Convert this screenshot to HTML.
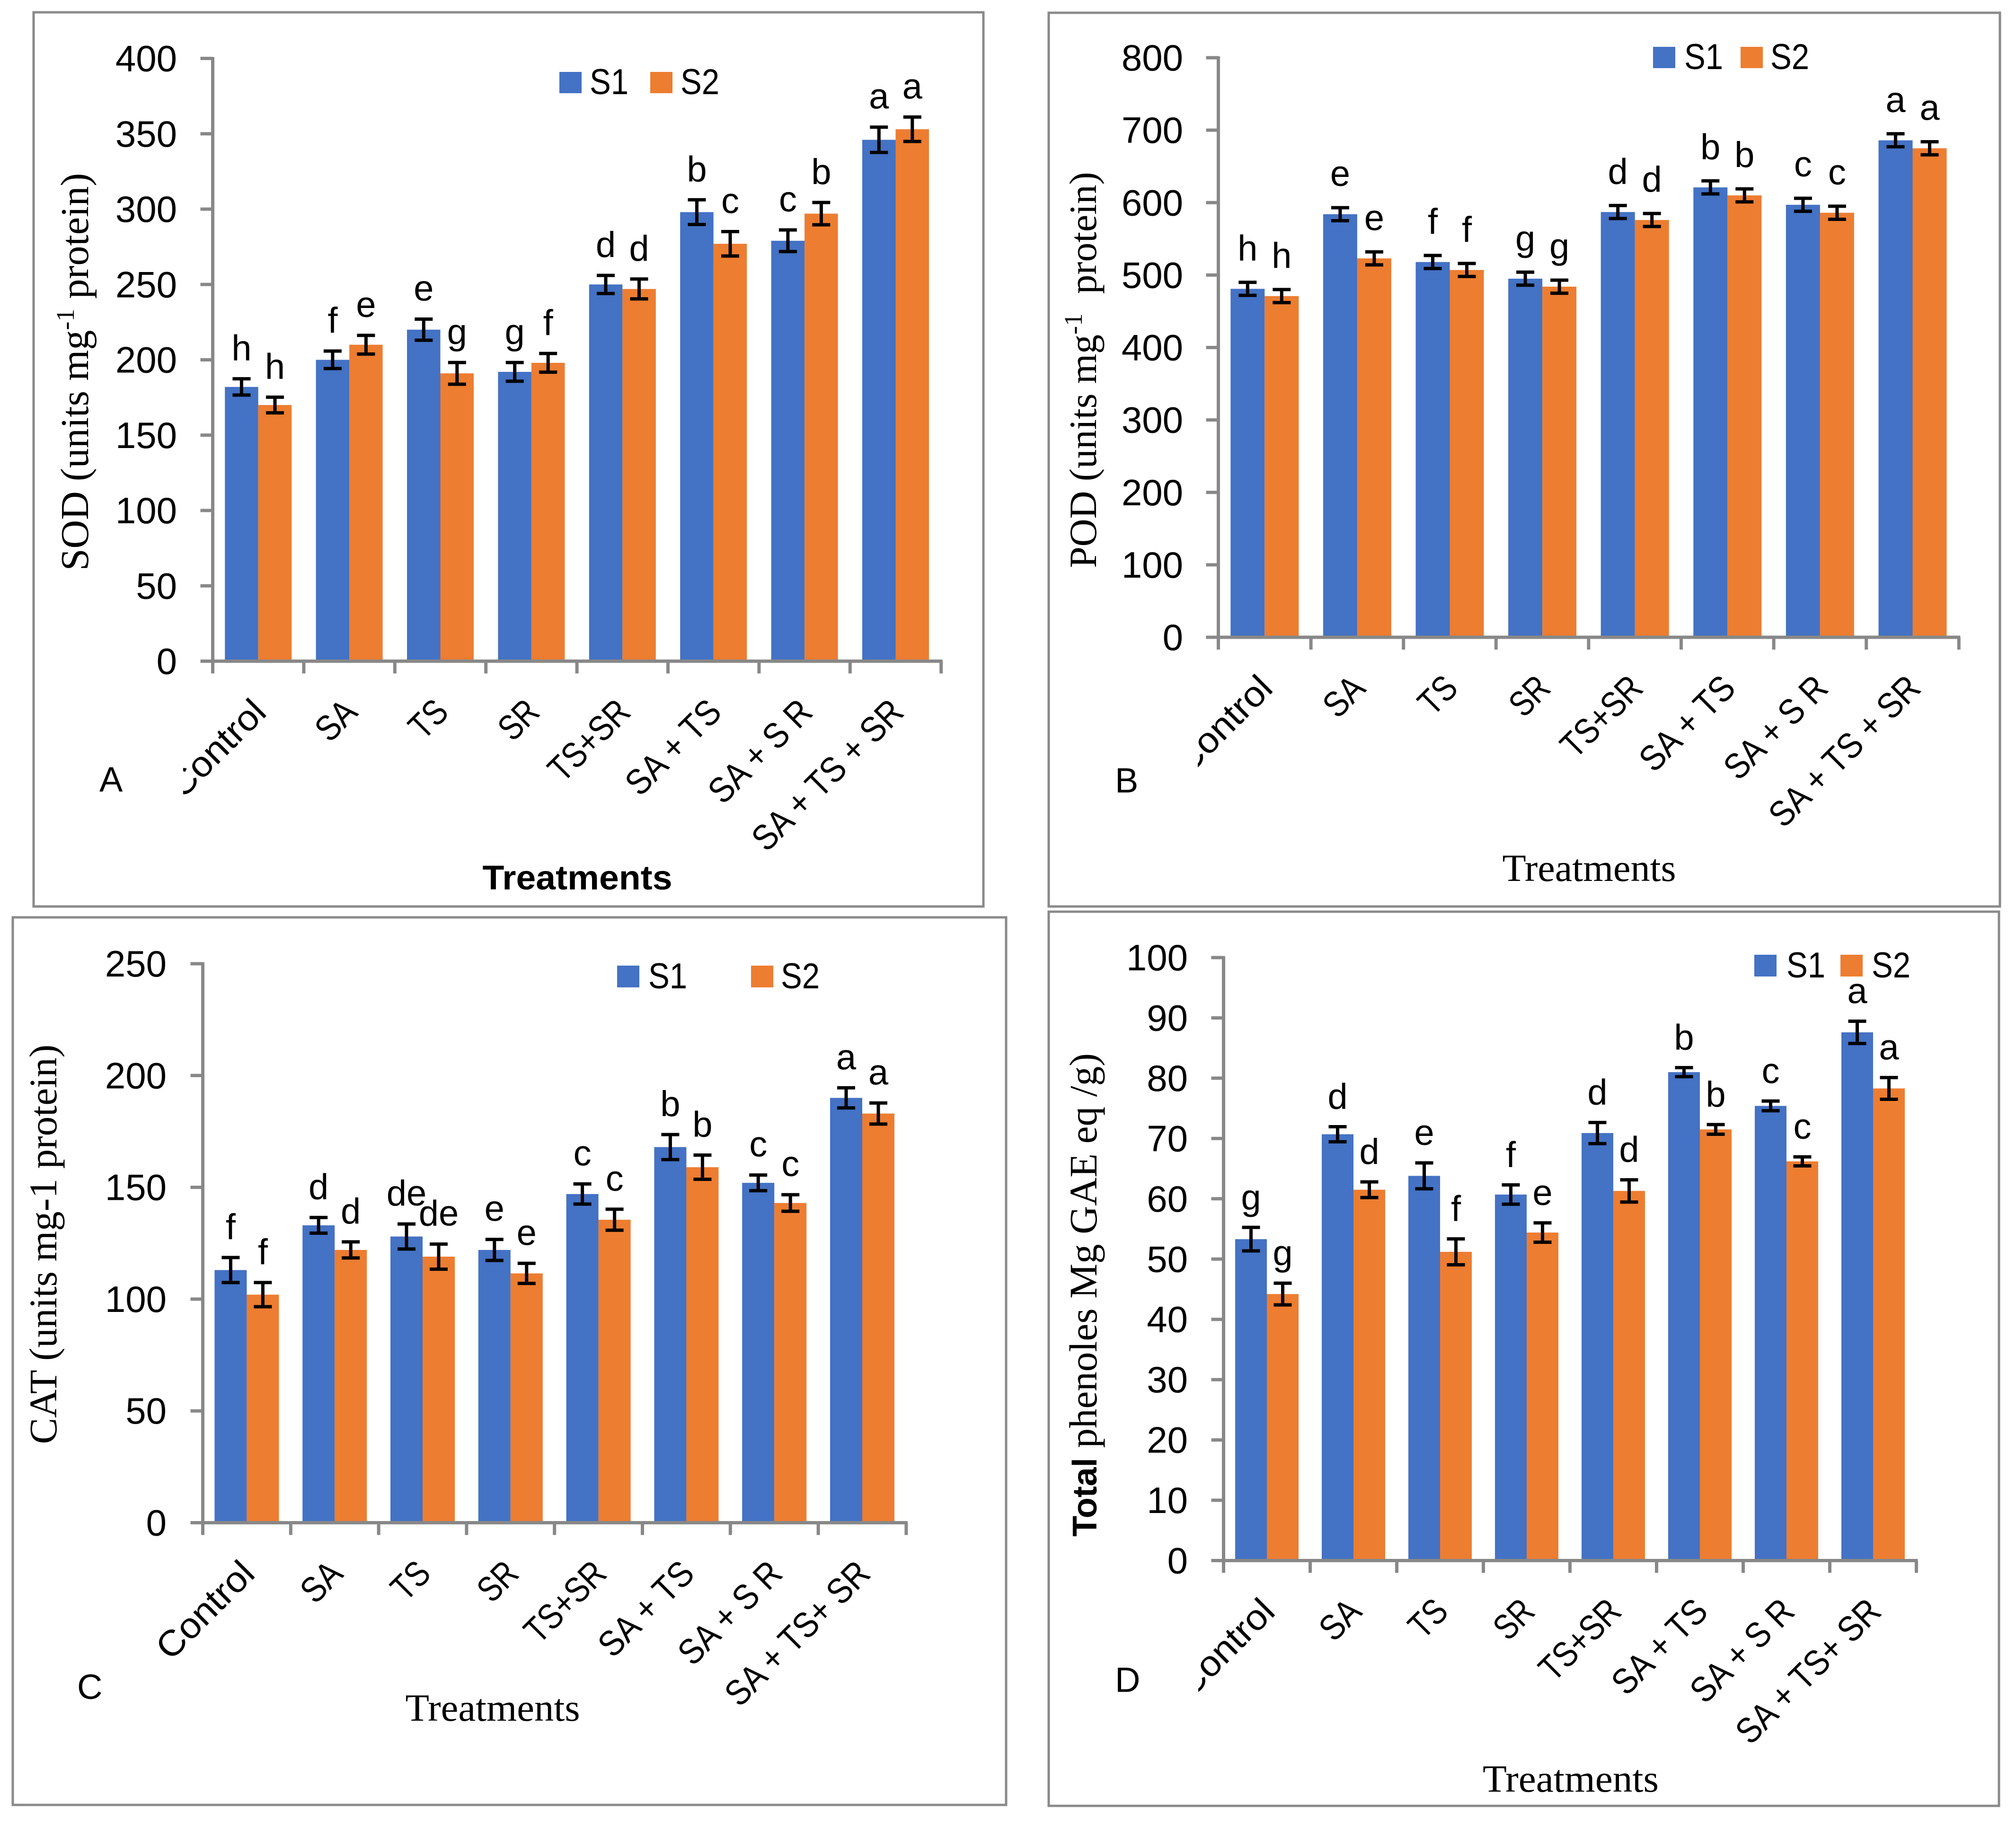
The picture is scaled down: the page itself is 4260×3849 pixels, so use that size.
<!DOCTYPE html>
<html lang="en">
<head>
<meta charset="utf-8">
<title>Antioxidant enzymes and total phenoles by treatment</title>
<style>
html,body{margin:0;padding:0;background:#fff;}
svg{display:block;}
</style>
</head>
<body>
<svg id="figure" xmlns="http://www.w3.org/2000/svg" width="4260" height="3849" viewBox="0 0 4260 3849">
<rect x="0" y="0" width="4260" height="3849" fill="#ffffff"/>
</svg>
<script>
// ---------- Chart data ----------
const sodCategories = ['Control','SA','TS','SR','TS+SR','SA + TS','SA + S R','SA + TS + SR'];
const sodS1 = [182,200,220,192,250,298,279,346];
const sodS2 = [170,210,191,198,247,277,297,353];
const sodS1Err = [5.4,5.8,7,6.2,6,8.2,7.2,8.4];
const sodS2Err = [5.2,6.2,7.2,6.2,6.6,8.1,7.4,8.1];
const sodS1Letters = ['h','f','e','g','d','b','c','a'];
const sodS2Letters = ['h','e','g','f','d','c','b','a'];
const sodTicks = [0,50,100,150,200,250,300,350,400];

const podCategories = ['Control','SA','TS','SR','TS+SR','SA + TS','SA + S R','SA + TS + SR'];
const podS1 = [481,584,518,495,587,621,597,686];
const podS2 = [471,523,507,484,576,610,586,675];
const podS1Err = [9,9,9,9,9,9,9,9];
const podS2Err = [9,9,9,9,9,9,9,9];
const podS1Letters = ['h','e','f','g','d','b','c','a'];
const podS2Letters = ['h','e','f','g','d','b','c','a'];
const podTicks = [0,100,200,300,400,500,600,700,800];

const catCategories = ['Control','SA','TS','SR','TS+SR','SA + TS','SA + S R','SA + TS+ SR'];
const catS1 = [113,133,128,122,147,168,152,190];
const catS2 = [102,122,119,111.5,135.5,159,143,183];
const catS1Err = [5.6,3.5,5.6,4.7,4.5,5.6,3.5,4.5];
const catS2Err = [5.4,3.6,5.6,4.5,4.7,5.4,3.7,4.7];
const catS1Letters = ['f','d','de','e','c','b','c','a'];
const catS2Letters = ['f','d','de','e','c','b','c','a'];
const catTicks = [0,50,100,150,200,250];

const phenCategories = ['Control','SA','TS','SR','TS+SR','SA + TS','SA + S R','SA + TS+ SR'];
const phenS1 = [53.3,70.7,63.8,60.7,70.9,81,75.4,87.6];
const phenS2 = [44.2,61.5,51.2,54.4,61.3,71.5,66.2,78.3];
const phenS1Err = [1.95,1.25,2.15,1.6,1.75,0.75,0.8,1.85];
const phenS2Err = [1.8,1.3,2.15,1.6,1.85,0.8,0.75,1.8];
const phenS1Letters = ['g','d','e','f','d','b','c','a'];
const phenS2Letters = ['g','d','f','e','d','b','c','a'];
const phenTicks = [0,10,20,30,40,50,60,70,80,90,100];

// ---------- Layout ----------
const BLUE = '#4472C4', ORANGE = '#ED7D31', GREY = '#888888';
const SANS = '"Liberation Sans", sans-serif', SERIF = '"Liberation Serif", serif';
const panels = [
 {id:'a', letter:'A', cats:sodCategories, s1:sodS1, s2:sodS2, e1:sodS1Err, e2:sodS2Err, l1:sodS1Letters, l2:sodS2Letters, ticks:sodTicks,
  frame:[71,26,2078,1916], x0:449.5, groupW:192.4, barW:70.5, y0:1397.5, yTop:123.5, tickRight:374, gap:39, clipX:387,
  legend:{top:152,h:45,w:47,s1:1182,s1t:1246,s2:1374,s2t:1438},
  yTitle:{x:186,y:786,size:84,parts:[['SOD (units mg'],['-1','sup'],[' protein)']]},
  xTitle:{text:'Treatments',x:1220,y:1880,font:SANS,bold:true,size:72,len:401},
  tag:{x:210,y:1673}},
 {id:'b', letter:'B', cats:podCategories, s1:podS1, s2:podS2, e1:podS1Err, e2:podS2Err, l1:podS1Letters, l2:podS2Letters, ticks:podTicks,
  frame:[2216,27,4226,1916], x0:2574.5, groupW:195.6, barW:72, y0:1347, yTop:122, tickRight:2500, gap:46, clipX:2531,
  legend:{top:99,h:45,w:47,s1:3493,s1t:3559,s2:3678,s2t:3741},
  yTitle:{x:2316,y:782,size:81.5,parts:[['POD (units mg'],['-1','sup'],['\u00a0 protein)']]},
  xTitle:{text:'Treatments',x:3358,y:1862,font:SERIF,bold:false,size:82,len:367},
  tag:{x:2356,y:1675}},
 {id:'c', letter:'C', cats:catCategories, s1:catS1, s2:catS2, e1:catS1Err, e2:catS2Err, l1:catS1Letters, l2:catS2Letters, ticks:catTicks,
  frame:[27,1939,2126,3815], x0:428.5, groupW:185.8, barW:68, y0:3218.5, yTop:2037, tickRight:352, gap:39, clipX:0,
  legend:{top:2041,h:46,w:47,s1:1304,s1t:1370,s2:1587,s2t:1650},
  yTitle:{x:119,y:2630,size:83,parts:[['CAT (units mg-1 protein)']]},
  xTitle:{text:'Treatments',x:1041,y:3637,font:SERIF,bold:false,size:82,len:369},
  tag:{x:163,y:3591}},
 {id:'d', letter:'D', cats:phenCategories, s1:phenS1, s2:phenS2, e1:phenS1Err, e2:phenS2Err, l1:phenS1Letters, l2:phenS2Letters, ticks:phenTicks,
  frame:[2216,1927,4224,3817], x0:2585.5, groupW:183, barW:67, y0:3298.5, yTop:2024, tickRight:2510, gap:38, clipX:2532,
  legend:{top:2018,h:46,w:47,s1:3707,s1t:3775,s2:3889,s2t:3955},
  yTitle:{x:2317,y:2737,size:83,parts:[['Total','bold'],[' phenoles Mg GAE eq /g)']]},
  xTitle:{text:'Treatments',x:3319,y:3787,font:SERIF,bold:false,size:82,len:372},
  tag:{x:2356,y:3576}}
];

// ---------- Helpers ----------
const NS = 'http://www.w3.org/2000/svg';
const figure = document.getElementById('figure');
function mk(tag, geom, parent, text){
  const el = document.createElementNS(NS, tag);
  for (const k in geom) el.setAttribute(k, geom[k]);
  if (text !== undefined) el.textContent = text;
  (parent || figure).appendChild(el);
  return el;
}
const narrowWidths = {'S':.459,'A':.579,' ':.226,'+':.498,'T':.487,'R':.543,'C':.533,'o':.527,'n':.525,'t':.335,'r':.349,'l':.229,'1':.507,'2':.507};
function fittedLength(str){
  let w = 0;
  for (const ch of str) w += narrowWidths[ch] || .5;
  return (w * 85).toFixed(1);
}

// ---------- Drawing ----------
panels.forEach(function(p){
  const g = mk('g', {}, figure);
  
  

  const frame = mk('rect', {x:p.frame[0], y:p.frame[1], width:p.frame[2]-p.frame[0], height:p.frame[3]-p.frame[1], fill:'none', stroke:'#8a8a8a', 'stroke-width':5}, g);
  
  

  const maxTick = p.ticks[p.ticks.length-1];
  const yScale = function(v){ return p.y0 - (v / maxTick) * (p.y0 - p.yTop); };
  const groupX = function(i){ return p.x0 + i * p.groupW; };
  const offset = (p.groupW - 2 * p.barW) / 2;
  const xEnd = groupX(p.cats.length);

  // bars
  [[p.s1,BLUE,0,'s1'],[p.s2,ORANGE,1,'s2']].forEach(function(s){
    s[0].forEach(function(v,i){
      const bar = mk('rect', {x:(groupX(i)+offset+s[2]*p.barW).toFixed(2), y:yScale(v).toFixed(2), width:p.barW, height:(p.y0-yScale(v)).toFixed(2), fill:s[1]}, g);
      
      
    });
  });

  // axes
  const yAxis = mk('line', {x1:p.x0, x2:p.x0, y1:p.yTop-3, y2:p.y0+26, stroke:GREY, 'stroke-width':7}, g);
  
  
  const xAxis = mk('line', {x1:p.x0-26, x2:xEnd+3, y1:p.y0, y2:p.y0, stroke:GREY, 'stroke-width':7}, g);
  
  

  p.ticks.forEach(function(t){
    const y = yScale(t);
    const tick = mk('line', {x1:p.x0-26, x2:p.x0, y1:y, y2:y, stroke:GREY, 'stroke-width':7}, g);
    
    
    const lab = mk('text', {x:p.tickRight, y:y+27, 'text-anchor':'end', 'font-family':SANS, 'font-size':78, fill:'#000'}, g, String(t));
    
    
  });

  for (let i = 0; i <= p.cats.length; i++){
    const tx = groupX(i);
    const tick = mk('line', {x1:tx, x2:tx, y1:p.y0, y2:p.y0+26, stroke:GREY, 'stroke-width':7}, g);
    
    
  }

  // category labels
  const clipId = 'clip-' + p.id;
  const defs = mk('defs', {}, g);
  const clip = mk('clipPath', {id:clipId}, defs);
  mk('rect', {x:p.clipX, y:p.y0, width:4260-p.clipX, height:900}, clip);
  const labelGroup = mk('g', {'clip-path':'url(#'+clipId+')'}, g);
  
  
  p.cats.forEach(function(c,i){
    const ax = groupX(i) + p.groupW/2 + 21;
    const ay = p.y0 + 112;
    const lab = mk('text', {x:0, y:0, transform:'translate('+ax.toFixed(1)+','+ay.toFixed(1)+') rotate(-45)', 'text-anchor':'end', 'font-family':SANS, 'font-size':76, fill:'#000', textLength:fittedLength(c), lengthAdjust:'spacingAndGlyphs'}, labelGroup, c);
    
    
  });

  // error bars and significance letters
  [[p.s1,p.e1,p.l1,0,'s1'],[p.s2,p.e2,p.l2,1,'s2']].forEach(function(s){
    s[0].forEach(function(v,i){
      const cx = groupX(i) + offset + s[3]*p.barW + p.barW/2;
      const top = yScale(v + s[1][i]);
      const bot = yScale(v - s[1][i]);
      const d = 'M'+(cx-19).toFixed(1)+' '+top.toFixed(1)+'H'+(cx+19).toFixed(1)+'M'+cx.toFixed(1)+' '+top.toFixed(1)+'V'+bot.toFixed(1)+'M'+(cx-19).toFixed(1)+' '+bot.toFixed(1)+'H'+(cx+19).toFixed(1);
      const err = mk('path', {d:d, fill:'none', stroke:'#000', 'stroke-width':7}, g);
      
      
      const sig = mk('text', {x:cx.toFixed(1), y:(top-p.gap).toFixed(1), 'text-anchor':'middle', 'font-family':SANS, 'font-size':76, fill:'#000'}, g, s[2][i]);
      
      
    });
  });

  // legend
  const L = p.legend;
  const legendGroup = mk('g', {}, g);
  
  
  const sw1 = mk('rect', {x:L.s1, y:L.top, width:L.w, height:L.h, fill:BLUE}, legendGroup);
  
  
  const t1 = mk('text', {x:L.s1t, y:L.top+L.h+2, 'font-family':SANS, 'font-size':76, fill:'#000', textLength:fittedLength('S1'), lengthAdjust:'spacingAndGlyphs'}, legendGroup, 'S1');
  
  
  const sw2 = mk('rect', {x:L.s2, y:L.top, width:L.w, height:L.h, fill:ORANGE}, legendGroup);
  
  
  const t2 = mk('text', {x:L.s2t, y:L.top+L.h+2, 'font-family':SANS, 'font-size':76, fill:'#000', textLength:fittedLength('S2'), lengthAdjust:'spacingAndGlyphs'}, legendGroup, 'S2');
  
  

  // y axis title
  const yt = mk('text', {x:0, y:0, transform:'translate('+p.yTitle.x+','+p.yTitle.y+') rotate(-90)', 'text-anchor':'middle', 'font-family':SERIF, 'font-size':p.yTitle.size, fill:'#000'}, g);
  
  
  yt.style.whiteSpace = 'pre';
  let shifted = false;
  p.yTitle.parts.forEach(function(part){
    const attrs = {};
    if (part[1] === 'sup'){ attrs.dy = -30; attrs['font-size'] = 54; shifted = true; }
    else if (shifted){ attrs.dy = 30; shifted = false; }
    if (part[1] === 'bold'){ attrs['font-weight'] = 'bold'; attrs['font-family'] = SANS; attrs['font-size'] = 72; }
    mk('tspan', attrs, yt, part[0]);
  });

  // x axis title
  const xt = mk('text', {x:p.xTitle.x, y:p.xTitle.y, 'text-anchor':'middle', 'font-family':p.xTitle.font, 'font-weight':p.xTitle.bold?'bold':'normal', 'font-size':p.xTitle.size, fill:'#000', textLength:p.xTitle.len, lengthAdjust:'spacingAndGlyphs'}, g, p.xTitle.text);
  
  

  // panel letter
  const tag = mk('text', {x:p.tag.x, y:p.tag.y, 'font-family':SANS, 'font-size':74, fill:'#000'}, g, p.letter);
  
  
});
</script>
</body>
</html>
